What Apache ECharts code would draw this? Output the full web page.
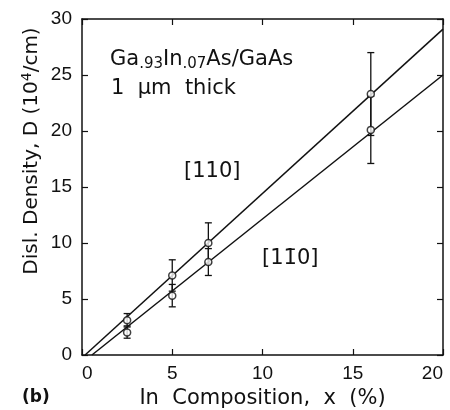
<!DOCTYPE html>
<html>
<head>
<meta charset="utf-8">
<script src="https://cdn.jsdelivr.net/npm/echarts@6/dist/echarts.min.js"></script>
<style>
  html, body { margin: 0; padding: 0; background: #fff; }
  #chart { width: 450px; height: 410px; }
</style>
</head>
<body>
<div id="chart"></div>
<script>
// measured points, x = In composition (%)
const compX = [2.5, 5, 7, 16];
// [110] direction
const d110 = [3.1, 7.1, 10.0, 23.3];
const d110Low = [2.6, 5.7, 8.2, 19.6];
const d110High = [3.7, 8.5, 11.8, 27.0];
// [1-10] direction
const d1m10 = [2.0, 5.3, 8.3, 20.1];
const d1m10Low = [1.5, 4.3, 7.1, 17.1];
const d1m10High = [2.5, 6.3, 9.5, 23.1];
// fitted lines, end points
const fit110 = [[0.17, 0], [20, 29.1]];
const fit1m10 = [[0.55, 0], [20, 25.0]];

const tickFont = 'Liberation Sans';
const font = 'DejaVu Sans';
const ink = '#111';
const pairs = (xs, ys) => xs.map((x, i) => [x, ys[i]]);
const errData = (lo, hi) => compX.map((x, i) => [x, lo[i], hi[i]]);

const errorBar = (name, data) => ({
  name: name,
  type: 'custom',
  data: data,
  z: 3,
  renderItem: (params, api) => {
    const x = api.value(0);
    const lo = api.coord([x, api.value(1)]);
    const hi = api.coord([x, api.value(2)]);
    const w = 3.5;
    const style = { stroke: ink, lineWidth: 1.3 };
    return {
      type: 'group',
      children: [
        { type: 'line', shape: { x1: lo[0], y1: lo[1], x2: hi[0], y2: hi[1] }, style: style },
        { type: 'line', shape: { x1: lo[0] - w, y1: lo[1], x2: lo[0] + w, y2: lo[1] }, style: style },
        { type: 'line', shape: { x1: hi[0] - w, y1: hi[1], x2: hi[0] + w, y2: hi[1] }, style: style }
      ]
    };
  }
});

const points = (name, data) => ({
  name: name,
  type: 'scatter',
  data: data,
  symbol: 'circle',
  symbolSize: 7,
  z: 4,
  itemStyle: { color: '#fff', borderColor: ink, borderWidth: 1.5 }
});

const fitLine = (name, data) => ({
  name: name,
  type: 'line',
  data: data,
  symbol: 'none',
  z: 2,
  lineStyle: { color: ink, width: 1.5 }
});

const axisLine = { show: true, onZero: false, lineStyle: { color: ink, width: 1.5 } };
const axisTick = { show: true, inside: true, length: 6, lineStyle: { color: ink, width: 1.2 } };
const tickLabel = { fontFamily: tickFont, fontSize: 19, color: ink };

const chart = echarts.init(document.getElementById('chart'));
chart.setOption({
  backgroundColor: '#fff',
  animation: false,
  grid: { left: 82, right: 7, top: 19, bottom: 55, containLabel: false, outerBoundsMode: 'none' },
  xAxis: [
    {
      type: 'value', min: 0, max: 20, interval: 5, position: 'bottom',
      axisLine: axisLine, axisTick: axisTick, splitLine: { show: false },
      axisLabel: Object.assign({ margin: 9, alignMinLabel: 'left', alignMaxLabel: 'right' }, tickLabel),
      name: 'In  Composition,  x  (%)',
      nameLocation: 'middle', nameGap: 20,
      nameTextStyle: { fontFamily: font, fontSize: 21, color: ink }
    },
    {
      type: 'value', min: 0, max: 20, interval: 5, position: 'top',
      axisLine: axisLine, axisTick: axisTick, splitLine: { show: false },
      axisLabel: { show: false }
    }
  ],
  yAxis: [
    {
      type: 'value', min: 0, max: 30, interval: 5, position: 'left',
      axisLine: axisLine, axisTick: axisTick, splitLine: { show: false },
      axisLabel: Object.assign({ margin: 10 }, tickLabel)
    },
    {
      type: 'value', min: 0, max: 30, interval: 5, position: 'right',
      axisLine: axisLine, axisTick: axisTick, splitLine: { show: false },
      axisLabel: { show: false }
    }
  ],
  graphic: [
    {
      type: 'text', x: 32, y: 151, rotation: Math.PI / 2,
      style: {
        text: 'Disl. Density, D (10{sup|4}/cm)',
        font: '20px ' + font, fill: ink, align: 'center', verticalAlign: 'middle',
        rich: { sup: { fontFamily: font, fontSize: 14, fill: ink, padding: [0, 0, 10, 0] } }
      }
    },
    {
      type: 'text', left: 110, top: 49,
      style: {
        text: 'Ga{s|.93}In{s|.07}As/GaAs',
        font: '21px ' + font, fill: ink,
        rich: { s: { fontFamily: font, fontSize: 15, fill: ink, padding: [9, 0, 0, 0] } }
      }
    },
    { type: 'text', left: 111, top: 78, style: { text: '1  \u03bcm  thick', font: '21px ' + font, fill: ink } },
    { type: 'text', left: 184, top: 161, style: { text: '[110]', font: '21px ' + font, fill: ink } },
    { type: 'text', left: 262, top: 248, style: { text: '[11\u03040]', font: '21px ' + font, fill: ink } },
    { type: 'text', left: 22, top: 389, style: { text: '(b)', font: 'bold 17px ' + font, fill: ink } }
  ],
  series: [
    fitLine('fit110', fit110),
    fitLine('fit1m10', fit1m10),
    errorBar('err110', errData(d110Low, d110High)),
    errorBar('err1m10', errData(d1m10Low, d1m10High)),
    points('[110]', pairs(compX, d110)),
    points('[1-10]', pairs(compX, d1m10))
  ]
});
</script>
</body>
</html>
